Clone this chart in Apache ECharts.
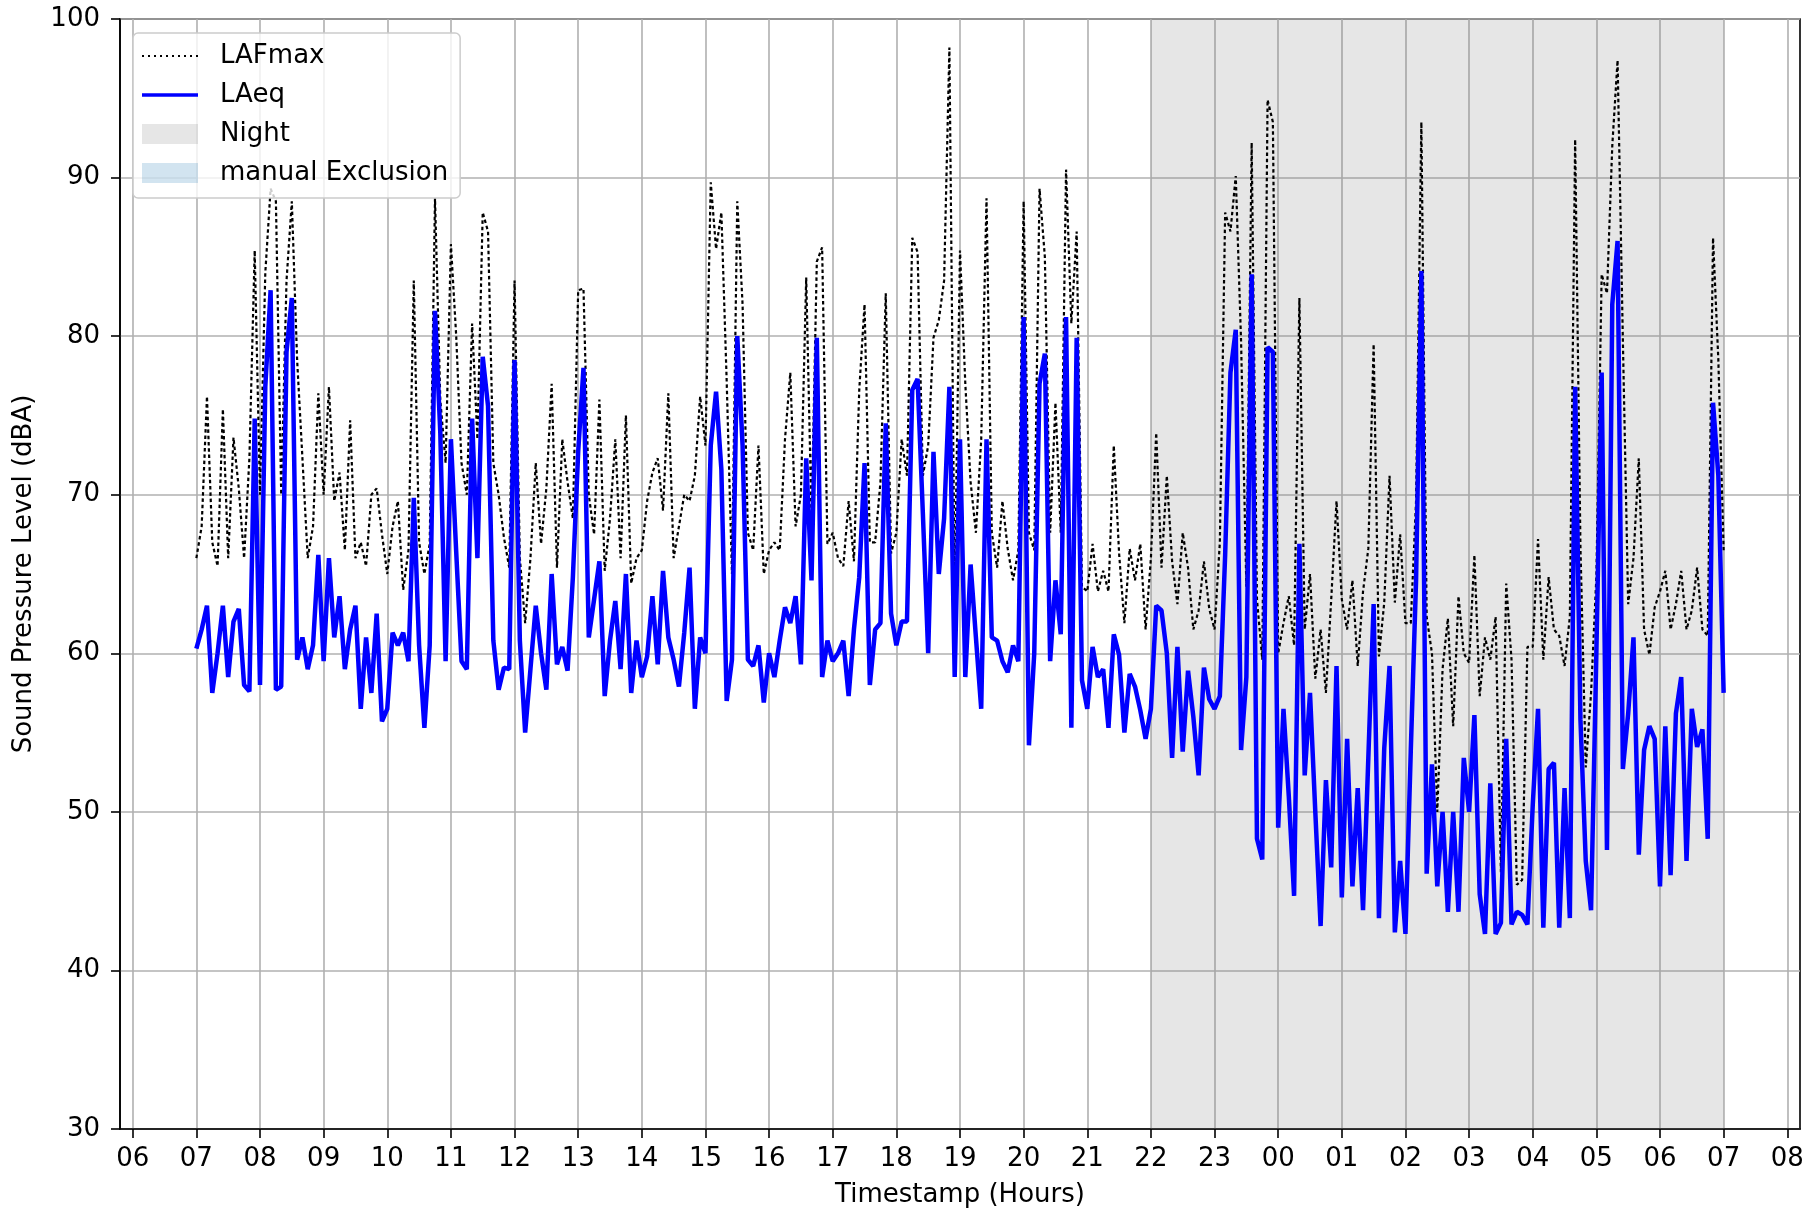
<!DOCTYPE html>
<html>
<head>
<meta charset="utf-8">
<title>Sound Pressure Level</title>
<script src="https://cdn.jsdelivr.net/npm/echarts@6/dist/echarts.min.js"></script>
<style>
  html, body { margin: 0; padding: 0; background: #fff; }
  #main { width: 1819px; height: 1213px; }
</style>
</head>
<body>
<div id="main"></div>
<script>
// samples every 5 minutes, 07:00 -> 07:00 next day (hours keep counting past 24)
var startHour = 7;
var stepMinutes = 5;

var laeq = [
  60.3, 61.5, 63, 57.5, 60, 63, 58.5, 62, 62.8, 58, 57.6, 74.8,          // 07
  58, 76.8, 82.9, 57.7, 57.9, 79, 82.4, 59.6, 61, 59, 60.5, 66.2,        // 08
  59.5, 66, 61, 63.6, 59, 61.5, 63, 56.5, 61, 57.5, 62.5, 55.7,          // 09
  56.5, 61.3, 60.5, 61.3, 59.5, 69.8, 60.5, 55.3, 60.5, 81.6, 73.9, 59.5,// 10
  73.5, 66.4, 59.5, 59, 74.8, 66, 78.7, 75.6, 60.8, 57.7, 59.1, 59,      // 11
  78.5, 60.8, 55, 59, 63, 60, 57.7, 65, 59.3, 60.4, 58.9, 64.8,          // 12
  72.7, 78, 61, 63.4, 65.8, 57.3, 60.8, 63.3, 59, 65, 57.5, 60.8,        // 13
  58.5, 59.8, 63.6, 59.3, 65.2, 61, 59.6, 57.9, 61.3, 65.4, 56.5, 61,    // 14
  60, 73.1, 76.5, 71.6, 57, 59.6, 80, 73.1, 59.6, 59.2, 60.5, 56.9,      // 15
  60, 58.5, 60.8, 62.9, 61.9, 63.6, 59.3, 72.3, 64.6, 79.9, 58.5, 60.8,  // 16
  59.5, 60, 60.8, 57.3, 61.5, 64.8, 72, 58, 61.5, 61.9, 74.5, 62.5,      // 17
  60.5, 62, 62, 76.6, 77.3, 68.8, 60, 72.7, 65, 68.5, 76.8, 58.5,        // 18
  73.5, 58.5, 65.6, 61, 56.5, 73.5, 61, 60.8, 59.5, 58.8, 60.5, 59.5,    // 19
  81.2, 54.2, 60, 77, 78.9, 59.5, 64.6, 61.2, 81.2, 55.3, 79.9, 58.3,    // 20
  56.5, 60.4, 58.5, 59, 55.3, 61.2, 59.9, 55, 58.7, 57.9, 56.4, 54.6,    // 21
  56.5, 63, 62.7, 60, 53.4, 60.4, 53.8, 58.9, 56, 52.3, 59.1, 57.1,      // 22
  56.5, 57.3, 66.2, 77.7, 80.4, 53.9, 58.5, 83.9, 48.3, 47, 79.3, 79,    // 23
  49, 56.5, 51, 44.7, 66.9, 52.3, 57.5, 50, 42.8, 52, 46.5, 59.2,        // 00
  44.6, 54.6, 45.3, 51.5, 43.8, 53.4, 63.1, 43.3, 54, 59.2, 42.4, 46.9,  // 01
  42.3, 53.8, 64.6, 84.1, 46.1, 53, 45.3, 50, 43.7, 50, 43.7, 53.4,      // 02
  50, 56.1, 44.8, 42.3, 51.8, 42.3, 43, 54.6, 42.9, 43.7, 43.5, 42.9,    // 03
  50.4, 56.5, 42.7, 52.7, 53.1, 42.7, 51.5, 43.3, 76.8, 55.8, 46.9, 43.8,// 04
  60, 77.7, 47.6, 82, 86, 52.7, 56.2, 61, 47.3, 53.9, 55.4, 54.6,        // 05
  45.3, 55.4, 46, 56.2, 58.5, 46.9, 56.5, 54.1, 55.2, 48.3, 75.8, 71.2,  // 06
  57.5                                                                   // 07
];

var lafmax = [
  66, 68, 76.2, 67, 65.5, 75.4, 66, 73.6, 70.4, 66, 72.3, 85.4,          // 07
  70, 84, 89.3, 88.5, 70, 83.5, 88.5, 78.5, 72.3, 66, 68, 76.4,          // 08
  70, 76.8, 69.6, 71.4, 66.5, 74.7, 66, 67, 65.5, 70, 70.4, 67.5,        // 09
  65, 68, 69.6, 64, 66.5, 83.5, 67, 65, 66.9, 88.7, 76, 72,              // 10
  85.8, 80, 72, 70, 80.8, 73.5, 87.8, 86.6, 72, 70, 67.3, 65.4,          // 11
  83.5, 66, 61.9, 66, 72, 66.9, 70.4, 77, 65.4, 73.5, 70.8, 68.5,        // 12
  82.9, 83, 70, 67.5, 76, 65.2, 68.5, 73.5, 66, 75, 64.4, 66,            // 13
  66.5, 69.6, 71.4, 72.3, 69, 76.4, 66, 68, 70, 69.6, 71.2, 76.2,        // 14
  73.1, 89.7, 85.5, 87.8, 77.2, 65, 88.5, 82, 67.6, 66.5, 73.1, 65,      // 15
  66.5, 67, 66.5, 73.5, 77.7, 68, 70, 83.7, 68.5, 84.7, 85.6, 66.9,      // 16
  67.6, 66, 65.5, 69.6, 65.8, 76.6, 82, 67, 67, 70.8, 82.7, 66.3,        // 17
  67.6, 73.5, 71.2, 86.2, 85.3, 71.2, 73.1, 79.9, 81, 83.5, 98.2, 64,    // 18
  85.4, 77, 70.8, 67.6, 73.5, 88.7, 67.6, 65.4, 69.6, 66.6, 64.6, 66.5,  // 19
  88.5, 67.6, 66.5, 89.3, 85, 67.6, 75.8, 67.6, 90.5, 80.8, 86.6, 64.2,  // 20
  63.9, 66.9, 63.9, 65.2, 63.9, 73.1, 66.3, 61.9, 66.6, 64.6, 66.9, 61.5,// 21
  66, 73.9, 65.4, 71.2, 65.8, 63.1, 67.6, 65.4, 61.5, 62.7, 65.8, 62.8,  // 22
  61.5, 67, 87.8, 86.6, 90.1, 79.7, 64.2, 92.2, 63.4, 59.6, 94.9, 93.5,  // 23
  60, 61.9, 63.6, 60.5, 82.4, 61.5, 65, 58.4, 61.5, 57.5, 63.4, 69.6,    // 00
  63.4, 61.5, 64.6, 59.2, 63.9, 66.6, 79.5, 59.8, 63.2, 71.2, 63.2, 67.5,// 01
  61.9, 61.9, 69.6, 93.5, 62.3, 60, 50, 59, 62.2, 55.4, 63.6, 60,        // 02
  59.4, 66.2, 57.3, 61, 59.6, 62.3, 46.2, 64.4, 59.6, 45.4, 45.7, 60.4,  // 03
  60.4, 67.2, 59.6, 64.8, 61.5, 61.1, 59.2, 62.3, 92.4, 66.7, 52.8, 57.5,// 04
  64.8, 83.9, 82.7, 92, 97.4, 79.7, 63.1, 66, 72.3, 61.5, 59.9, 62.9,    // 05
  63.9, 65.2, 61.5, 63.1, 65.2, 61.5, 62.7, 65.4, 61.5, 61.1, 86.2, 78.5,// 06
  66.5                                                                   // 07
];

var tickHours = [6, 7, 8, 9, 10, 11, 12, 13, 14, 15, 16, 17, 18, 19, 20,
                 21, 22, 23, 24, 25, 26, 27, 28, 29, 30, 31, 32];
var nightSpan = [22, 31];

function toPoints(arr) {
  return arr.map(function (v, i) { return [startHour + i * stepMinutes / 60, v]; });
}

// legend handles drawn as paths (the leading M0,0 / M56,20 keep the 56x20 box)
var dottedIcon = 'path://M0,0 M56,20 M0,9 L2,9 L2,11 L0,11 Z M6,9 L8,9 L8,11 L6,11 Z ' +
  'M12,9 L14,9 L14,11 L12,11 Z M18,9 L20,9 L20,11 L18,11 Z M24,9 L26,9 L26,11 L24,11 Z ' +
  'M30,9 L32,9 L32,11 L30,11 Z M36,9 L38,9 L38,11 L36,11 Z M42,9 L44,9 L44,11 L42,11 Z ' +
  'M48,9 L50,9 L50,11 L48,11 Z M54,9 L56,9 L56,11 L54,11 Z';
var solidIcon = 'path://M0,0 M56,20 M0,8.3 L56,8.3 L56,11.7 L0,11.7 Z';

var font = 'DejaVu Sans';
var myChart = echarts.init(document.getElementById('main'), null, { renderer: 'canvas' });

var option = {
  animation: false,
  backgroundColor: '#fff',
  grid: {
    left: 120, right: 19, top: 19, bottom: 83,
    show: true, borderColor: '#000', borderWidth: 1.6, backgroundColor: 'transparent'
  },
  legend: {
    left: 133, top: 33,
    orient: 'vertical',
    itemWidth: 56, itemHeight: 20, itemGap: 13,
    padding: [10, 12, 12, 9],
    borderColor: '#cccccc', borderWidth: 1.5, borderRadius: 5,
    backgroundColor: 'rgba(255,255,255,0.8)',
    textStyle: { fontFamily: font, fontSize: 26, color: '#000', padding: [0, 0, 0, 17] },
    data: [
      { name: 'LAFmax', icon: dottedIcon, itemStyle: { color: '#000' } },
      { name: 'LAeq', icon: solidIcon, itemStyle: { color: '#0000ff' } },
      { name: 'Night', icon: 'rect' },
      { name: 'manual Exclusion', icon: 'rect' }
    ]
  },
  xAxis: {
    type: 'value',
    min: 5.8, max: 32.2,
    name: 'Timestamp (Hours)',
    nameLocation: 'middle', nameGap: 53,
    nameTextStyle: { fontFamily: font, fontSize: 26, color: '#000' },
    axisLine: { lineStyle: { color: '#000', width: 1.6 } },
    axisTick: { length: 9, lineStyle: { color: '#000', width: 1.6 }, customValues: tickHours },
    axisLabel: {
      customValues: tickHours,
      margin: 17, fontFamily: font, fontSize: 26, color: '#000',
      formatter: function (v) { var h = Math.round(v) % 24; return (h < 10 ? '0' : '') + h; }
    },
    splitLine: { show: true, lineStyle: { color: '#b0b0b0', width: 1.6 } }
  },
  yAxis: {
    type: 'value',
    min: 30, max: 100, interval: 10,
    name: 'Sound Pressure Level (dBA)',
    nameLocation: 'middle', nameGap: 83,
    nameTextStyle: { fontFamily: font, fontSize: 26, color: '#000' },
    axisLine: { show: true, lineStyle: { color: '#000', width: 1.6 } },
    axisTick: { show: true, length: 9, lineStyle: { color: '#000', width: 1.6 } },
    axisLabel: { margin: 20, fontFamily: font, fontSize: 26, color: '#000' },
    splitLine: { show: true, lineStyle: { color: '#b0b0b0', width: 1.6 } }
  },
  series: [
    {
      name: 'Night', type: 'line', data: [],
      itemStyle: { color: 'rgba(128,128,128,0.2)' },
      markArea: {
        silent: true,
        itemStyle: { color: 'rgba(128,128,128,0.2)' },
        data: [[{ xAxis: nightSpan[0] }, { xAxis: nightSpan[1] }]]
      }
    },
    {
      name: 'manual Exclusion', type: 'line', data: [],
      itemStyle: { color: 'rgba(31,119,180,0.2)' }
    },
    {
      name: 'LAFmax', type: 'line', data: toPoints(lafmax),
      symbol: 'none', z: 3,
      lineStyle: { color: '#000', width: 2.2, type: [3.5, 2.8] },
      itemStyle: { color: '#000' }
    },
    {
      name: 'LAeq', type: 'line', data: toPoints(laeq),
      symbol: 'none', z: 4,
      lineStyle: { color: '#0000ff', width: 4.5 },
      itemStyle: { color: '#0000ff' }
    }
  ]
};

myChart.setOption(option);
</script>
</body>
</html>
